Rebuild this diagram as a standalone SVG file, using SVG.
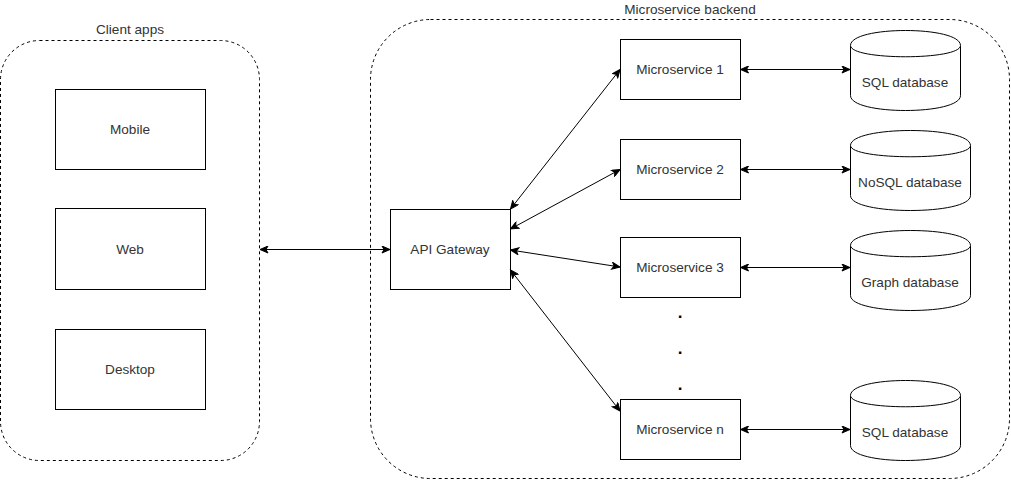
<svg xmlns="http://www.w3.org/2000/svg" width="1011" height="480" viewBox="0 0 1011 480">
<defs>
<style>
.box{fill:#fff;stroke:#000;stroke-width:1}
.grp{fill:none;stroke:#000;stroke-width:1;stroke-dasharray:3 3}
.lbl{font-family:"Liberation Sans",Arial,Helvetica,sans-serif;font-size:13.6px;fill:#333;text-anchor:middle}
.dot{font-family:"Liberation Sans",Arial,Helvetica,sans-serif;font-size:17px;font-weight:bold;fill:#000;text-anchor:middle}
.edge{fill:none;stroke:#000;stroke-width:1;marker-start:url(#arr);marker-end:url(#arr)}
</style>
<marker id="arr" viewBox="-1 -4 10 8" markerWidth="10" markerHeight="8" refX="8" refY="0" orient="auto-start-reverse" markerUnits="userSpaceOnUse">
<path d="M0,-3.5 L8,0 L0,3.5 L2,0 Z" fill="#000" stroke="#000" stroke-width="1" stroke-linejoin="miter"/>
</marker>
</defs>
<g id="client-apps">
<rect class="grp" x="0.5" y="40.5" width="259" height="420" rx="39" ry="39"/>
<text class="lbl" x="130" y="34">Client apps</text>
</g>
<g id="backend">
<rect class="grp" x="370.5" y="19.5" width="639" height="459" rx="60" ry="60"/>
<text class="lbl" x="690" y="14">Microservice backend</text>
</g>
<g id="mobile">
<rect class="box" x="55.5" y="89.5" width="150" height="80"/>
<text class="lbl" x="130" y="134">Mobile</text>
</g>
<g id="web">
<rect class="box" x="55.5" y="208.5" width="150" height="81"/>
<text class="lbl" x="130" y="254">Web</text>
</g>
<g id="desktop">
<rect class="box" x="55.5" y="329.5" width="150" height="80"/>
<text class="lbl" x="130" y="374">Desktop</text>
</g>
<g id="api-gateway">
<rect class="box" x="390.5" y="209.5" width="120" height="80"/>
<text class="lbl" x="450" y="254">API Gateway</text>
</g>
<g id="ms1">
<rect class="box" x="620.5" y="39.5" width="120" height="60"/>
<text class="lbl" x="680" y="74">Microservice 1</text>
</g>
<g id="ms2">
<rect class="box" x="620.5" y="139.5" width="120" height="60"/>
<text class="lbl" x="680" y="174">Microservice 2</text>
</g>
<g id="ms3">
<rect class="box" x="620.5" y="237.5" width="120" height="60"/>
<text class="lbl" x="680" y="272">Microservice 3</text>
</g>
<g id="msn">
<rect class="box" x="620.5" y="399.5" width="120" height="60"/>
<text class="lbl" x="680" y="434">Microservice n</text>
</g>
<g id="dots">
<text class="dot" x="680" y="318">.</text>
<text class="dot" x="680" y="354">.</text>
<text class="dot" x="680" y="390">.</text>
</g>
<g id="db-sql1">
<path class="box" d="M850.5,45.5 C850.5,25.5 960.5,25.5 960.5,45.5 L960.5,95.5 C960.5,115.5 850.5,115.5 850.5,95.5 Z"/>
<path class="box" fill="none" d="M850.5,45.5 C850.5,60.5 960.5,60.5 960.5,45.5"/>
<text class="lbl" x="905" y="87">SQL database</text>
</g>
<g id="db-nosql">
<path class="box" d="M850.5,145.5 C850.5,125.5 970.5,125.5 970.5,145.5 L970.5,195.5 C970.5,215.5 850.5,215.5 850.5,195.5 Z"/>
<path class="box" d="M850.5,145.5 C850.5,160.5 970.5,160.5 970.5,145.5"/>
<text class="lbl" x="910" y="187">NoSQL database</text>
</g>
<g id="db-graph">
<path class="box" d="M850.5,245.5 C850.5,225.5 970.5,225.5 970.5,245.5 L970.5,295.5 C970.5,315.5 850.5,315.5 850.5,295.5 Z"/>
<path class="box" d="M850.5,245.5 C850.5,260.5 970.5,260.5 970.5,245.5"/>
<text class="lbl" x="910" y="287">Graph database</text>
</g>
<g id="db-sqln">
<path class="box" d="M850.5,395.5 C850.5,375.5 960.5,375.5 960.5,395.5 L960.5,445.5 C960.5,465.5 850.5,465.5 850.5,445.5 Z"/>
<path class="box" d="M850.5,395.5 C850.5,410.5 960.5,410.5 960.5,395.5"/>
<text class="lbl" x="905" y="437">SQL database</text>
</g>
<g id="connectors">
<line class="edge" x1="260" y1="249.5" x2="390" y2="249.5"/>
<line class="edge" x1="510.5" y1="209" x2="620" y2="69.5"/>
<line class="edge" x1="510.5" y1="229" x2="620" y2="169.5"/>
<line class="edge" x1="510.5" y1="250" x2="620" y2="267"/>
<line class="edge" x1="510.5" y1="270" x2="620" y2="411"/>
<line class="edge" x1="740.5" y1="69.5" x2="850" y2="69.5"/>
<line class="edge" x1="740.5" y1="169.5" x2="850" y2="169.5"/>
<line class="edge" x1="740.5" y1="267.5" x2="850" y2="267.5"/>
<line class="edge" x1="740.5" y1="429.5" x2="850" y2="429.5"/>
</g>
</svg>
